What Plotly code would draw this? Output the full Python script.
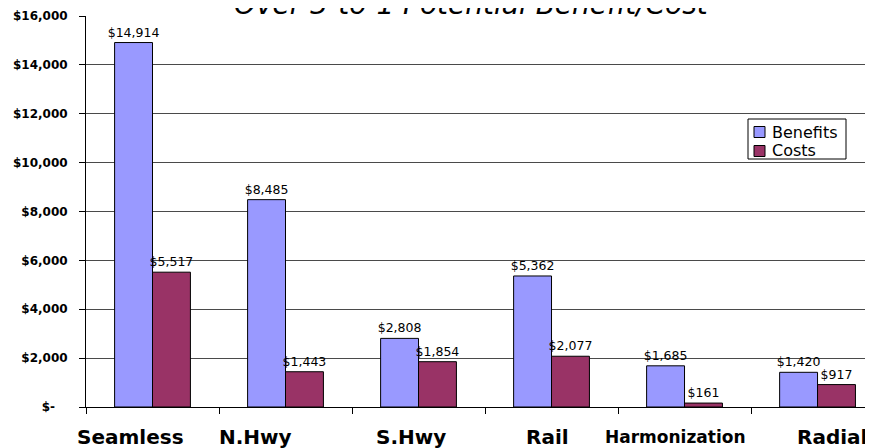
import plotly.graph_objects as go

categories = ["Seamless", "N.Hwy", "S.Hwy", "Rail", "Harmonization", "Radial"]
benefits = [14914, 8485, 2808, 5362, 1685, 1420]
costs = [5517, 1443, 1854, 2077, 161, 917]
series_names = ["Benefits", "Costs"]
series_colors = ["#9999FF", "#993366"]
y_tick_vals = [0, 2000, 4000, 6000, 8000, 10000, 12000, 14000, 16000]
y_tick_text = ["$-\u00a0\u00a0\u00a0", "$2,000", "$4,000", "$6,000", "$8,000",
               "$10,000", "$12,000", "$14,000", "$16,000"]
title_text = "Over 3-to-1 Potential Benefit/Cost"

# label styling (offsets / sizes) kept separate from data
label_xshift = [-22, -30, -8, -4, -9, 14]
label_size = [20, 20, 20, 20, 17, 20]

FONT = "DejaVu Sans"

# plot-area geometry in page pixels (page has an 8px body offset)
PX_L, PX_R, PX_T, PX_B = 86, 873, 16, 407


def px_x(X):
    return (X - PX_L) / (PX_R - PX_L)


def px_y(Y):
    return (PX_B - Y) / (PX_B - PX_T)


fig = go.Figure()
for name, vals, col in zip(series_names, [benefits, costs], series_colors):
    fig.add_trace(go.Bar(
        name=name, x=categories, y=vals,
        marker=dict(color=col, line=dict(color="black", width=1)),
        texttemplate="$%{y:,}", textposition="outside", constraintext="none",
        textfont=dict(family=FONT, size=12.5, color="black"), cliponaxis=False,
    ))

annotations = []
for c, dx, fs in zip(categories, label_xshift, label_size):
    annotations.append(dict(
        x=c, xref="x", y=0, yref="paper", yanchor="middle", yshift=-30,
        xshift=dx, text="<b>%s</b>" % c, showarrow=False,
        font=dict(family=FONT, size=fs, color="black"),
    ))
annotations.append(dict(
    x=0.490, xref="paper", y=1, yref="paper", yanchor="bottom", yshift=-7,
    text="<i>%s</i>" % title_text, showarrow=False,
    font=dict(family=FONT, size=28, color="black"),
))

# manual legend (box, swatches, labels)
shapes = [dict(
    type="rect", xref="paper", yref="paper",
    x0=px_x(748), x1=px_x(846), y0=px_y(159), y1=px_y(119),
    fillcolor="white", line=dict(color="black", width=1), layer="above",
)]
legend_rows_y = [132, 151]
for name, col, ry in zip(series_names, series_colors, legend_rows_y):
    shapes.append(dict(
        type="rect", xref="paper", yref="paper",
        x0=px_x(754), x1=px_x(765), y0=px_y(ry + 5.5), y1=px_y(ry - 5.5),
        fillcolor=col, line=dict(color="black", width=1), layer="above",
    ))
    annotations.append(dict(
        x=px_x(770), xref="paper", y=px_y(ry), yref="paper",
        xanchor="left", yanchor="middle", text=name, showarrow=False,
        font=dict(family=FONT, size=16, color="black"),
    ))

fig.update_layout(
    width=865, height=440,
    margin=dict(l=78, r=0, t=8, b=41),
    paper_bgcolor="white", plot_bgcolor="white",
    barmode="group", bargap=0.43, bargroupgap=0,
    font=dict(family=FONT, color="black"),
    showlegend=False,
    annotations=annotations,
    shapes=shapes,
    xaxis=dict(
        range=[-0.5, 5.417], showgrid=False, showticklabels=False,
        ticks="outside", tickson="boundaries", ticklen=6, tickcolor="black",
        showline=True, linecolor="black", linewidth=1,
        fixedrange=True,
    ),
    yaxis=dict(
        range=[0, 16000], tickvals=y_tick_vals, ticktext=y_tick_text,
        ticks="outside", ticklen=6, tickcolor="black", ticklabelstandoff=9,
        showgrid=True, gridcolor="#4a4a4a", gridwidth=1,
        showline=True, linecolor="black", linewidth=1,
        tickfont=dict(family=FONT, size=12, color="black", weight="bold"),
        zeroline=False,
    ),
)

fig.write_html("out.html")
